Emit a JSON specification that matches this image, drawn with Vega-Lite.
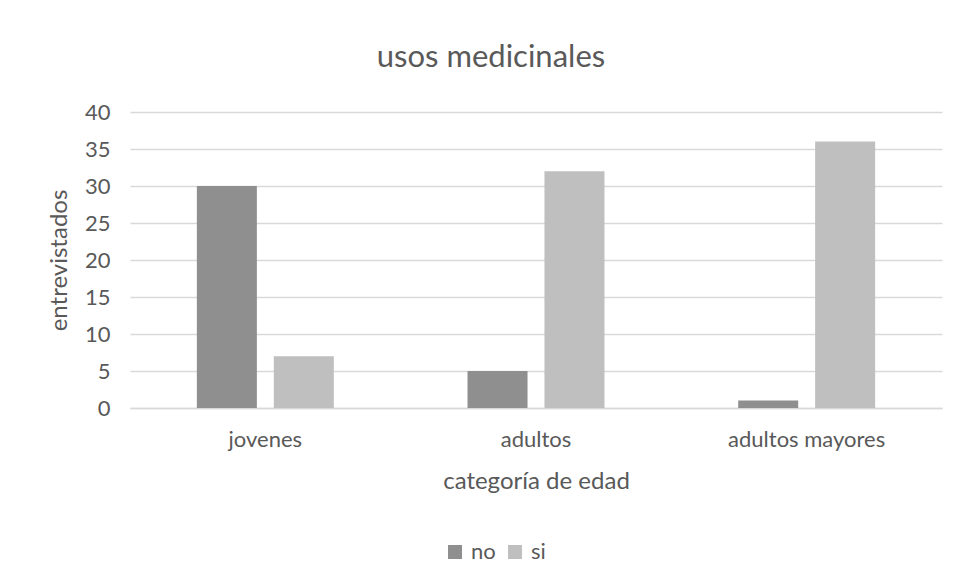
{
  "$schema": "https://vega.github.io/schema/vega-lite/v6.json",
  "autosize": "none",
  "padding": {"left": 130, "top": 112, "right": 16, "bottom": 174},
  "width": 812,
  "height": 296,
  "background": "#ffffff",
  "title": {
    "text": "usos medicinales",
    "anchor": "middle",
    "frame": "group",
    "dx": -45,
    "offset": 27,
    "font": "Lato",
    "fontSize": 31,
    "fontWeight": "normal",
    "color": "#595959"
  },
  "data": {
    "values": [
      {"categoria": "jovenes", "respuesta": "no", "entrevistados": 30},
      {"categoria": "jovenes", "respuesta": "si", "entrevistados": 7},
      {"categoria": "adultos", "respuesta": "no", "entrevistados": 5},
      {"categoria": "adultos", "respuesta": "si", "entrevistados": 32},
      {"categoria": "adultos mayores", "respuesta": "no", "entrevistados": 1},
      {"categoria": "adultos mayores", "respuesta": "si", "entrevistados": 36}
    ]
  },
  "mark": {"type": "bar"},
  "encoding": {
    "x": {
      "field": "categoria",
      "type": "nominal",
      "sort": ["jovenes", "adultos", "adultos mayores"],
      "scale": {"paddingInner": 0.494, "paddingOuter": 0.247},
      "axis": {
        "title": "categoría de edad",
        "labelAngle": 0,
        "ticks": false,
        "domainColor": "#d9d9d9",
        "domainWidth": 1.5,
        "labelPadding": 21,
        "titlePadding": 19
      }
    },
    "xOffset": {
      "field": "respuesta",
      "type": "nominal",
      "scale": {"paddingInner": 0.22, "paddingOuter": 0}
    },
    "y": {
      "field": "entrevistados",
      "type": "quantitative",
      "scale": {"domain": [0, 40]},
      "axis": {
        "title": "entrevistados",
        "values": [0, 5, 10, 15, 20, 25, 30, 35, 40],
        "ticks": false,
        "domain": false,
        "gridColor": "#d9d9d9",
        "gridWidth": 1.5,
        "labelPadding": 20,
        "titlePadding": 13
      }
    },
    "color": {
      "field": "respuesta",
      "type": "nominal",
      "scale": {"domain": ["no", "si"], "range": ["#8f8f8f", "#bfbfbf"]},
      "legend": {
        "title": null,
        "orient": "none",
        "direction": "horizontal",
        "legendX": 314,
        "legendY": 429,
        "symbolType": "square",
        "symbolSize": 196,
        "symbolStrokeWidth": 0,
        "columnPadding": 8,
        "labelOffset": 5
      }
    }
  },
  "config": {
    "view": {"stroke": null},
    "font": "Lato",
    "axis": {
      "labelFont": "Lato",
      "labelFontSize": 22,
      "labelColor": "#595959",
      "titleFont": "Lato",
      "titleFontSize": 24,
      "titleFontWeight": "normal",
      "titleColor": "#595959"
    },
    "legend": {
      "labelFont": "Lato",
      "labelFontSize": 22,
      "labelColor": "#595959"
    }
  }
}
